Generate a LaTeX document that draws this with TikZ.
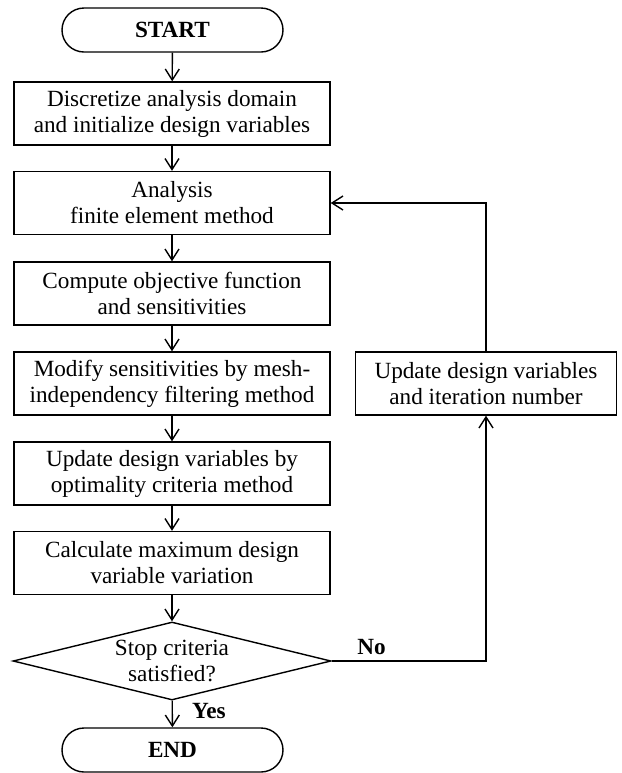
\documentclass[tikz,border=0pt]{standalone}
\usepackage{fontspec}
\setmainfont{Liberation Serif}
\usetikzlibrary{shapes.geometric,shapes.misc,arrows.meta}
\tikzset{
  procbox/.style={draw, line width=0.7pt, rectangle, minimum width=158pt, minimum height=31.5pt, align=center, inner sep=0pt},
  termbox/.style={draw, line width=0.7pt, rounded rectangle, minimum width=110.5pt, minimum height=22pt, inner sep=0pt, font=\fontsize{11.6}{13}\selectfont\bfseries},
  testbox/.style={draw, line width=0.7pt, diamond, aspect=4, minimum width=159pt, minimum height=39pt, align=center, inner sep=0pt},
  flow/.style={draw, line width=0.7pt, -{Straight Barb[length=5.5pt,width=7pt]}}
}

\begin{document}
\begin{tikzpicture}[x=0.5pt, y=-0.5pt, font=\fontsize{11.6}{13}\selectfont]
    \useasboundingbox (0,0) rectangle (622,773);
    % main column
    \node[termbox] (start) at (172.5,30) {START};
    \node[procbox] (discr) at (172,113.5) {Discretize analysis domain\\and initialize design variables};
    \node[procbox] (anal) at (172,203) {Analysis\\finite element method};
    \node[procbox] (objf) at (172,293.5) {Compute objective function\\and sensitivities};
    \node[procbox] (filt) at (172,383.5) {Modify sensitivities by mesh-\\independency filtering method};
    \node[procbox] (optc) at (172,473.5) {Update design variables by\\optimality criteria method};
    \node[procbox] (maxv) at (172,563) {Calculate maximum design\\variable variation};
    \node[testbox] (stop) at (172,661) {Stop criteria\\satisfied?};
    \node[termbox] (end) at (172.5,750) {END};
    % side column
    \node[procbox, minimum width=130.5pt] (updt) at (486,383.5) {Update design variables\\and iteration number};
    % labels
    \node (nolbl) at (371.5,647) {\textbf{No}};
    \node (yeslbl) at (209,711) {\textbf{Yes}};
    % connectors
    \draw[flow] (start) -- (discr);
    \draw[flow] (discr) -- (anal);
    \draw[flow] (anal) -- (objf);
    \draw[flow] (objf) -- (filt);
    \draw[flow] (filt) -- (optc);
    \draw[flow] (optc) -- (maxv);
    \draw[flow] (maxv) -- (stop);
    \draw[flow] (stop) -- (end);
    \draw[flow] (stop.east) -- (updt.south |- stop.east) -- (updt.south);
    \draw[flow] (updt.north) -- (updt.north |- anal.east) -- (anal.east);
\end{tikzpicture}
\end{document}
